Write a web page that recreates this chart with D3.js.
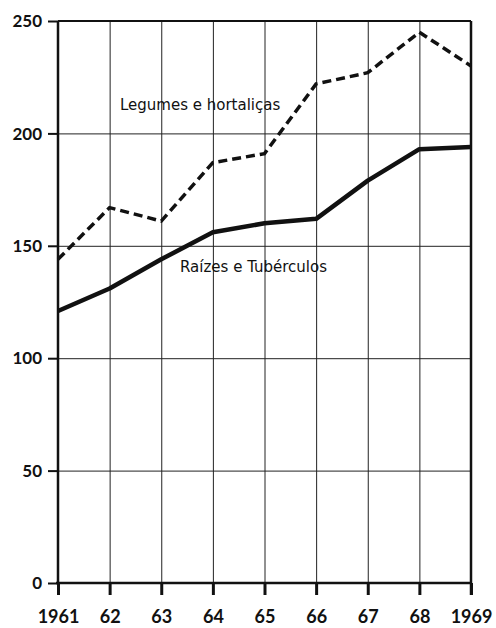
<!DOCTYPE html>
<html>
<head>
<meta charset="utf-8">
<script src="https://cdn.jsdelivr.net/npm/d3@7"></script>
<style>
  body { margin: 0; background: #fff; }
  svg { display: block; }
  .grid line { stroke: #222; stroke-width: 1; }
  .grid path { display: none; }
  .tick text { font-family: Lato, sans-serif; font-weight: 700; fill: #111; }
</style>
</head>
<body>
<svg width="496" height="628"></svg>
<script>
var years = [1961, 1962, 1963, 1964, 1965, 1966, 1967, 1968, 1969];
var yearLabels = ["1961", "62", "63", "64", "65", "66", "67", "68", "1969"];
var legumes = [144, 167, 161, 187, 191, 222, 227, 245, 230];
var raizes = [121, 131, 144, 156, 160, 162, 179, 193, 194];
var yTicks = [0, 50, 100, 150, 200, 250];

var svg = d3.select("svg"),
    margin = {top: 21, right: 25, bottom: 45, left: 58},
    width = svg.attr("width") - margin.left - margin.right,
    height = svg.attr("height") - margin.top - margin.bottom,
    g = svg.append("g").attr("transform", "translate(" + margin.left + "," + margin.top + ")");

var x = d3.scaleLinear().domain([1961, 1969]).range([0, width]),
    y = d3.scaleLinear().domain([0, 250]).range([height, 0]);

// gridlines
g.append("g")
    .attr("class", "grid")
    .attr("transform", "translate(0," + height + ")")
    .call(d3.axisBottom(x).tickValues(years).tickSize(-height).tickFormat(""));

g.append("g")
    .attr("class", "grid")
    .call(d3.axisLeft(y).tickValues(yTicks).tickSize(-width).tickFormat(""));

// frame
g.append("line").attr("x1", 0).attr("x2", 0).attr("y1", 0).attr("y2", height)
    .attr("stroke", "#111").attr("stroke-width", 2.5);
g.append("line").attr("x1", width).attr("x2", width).attr("y1", 0).attr("y2", height + 12)
    .attr("stroke", "#111").attr("stroke-width", 2.5);
g.append("line").attr("x1", 0).attr("x2", width).attr("y1", 0).attr("y2", 0)
    .attr("stroke", "#111").attr("stroke-width", 2);
g.append("line").attr("x1", -2).attr("x2", width).attr("y1", height).attr("y2", height)
    .attr("stroke", "#111").attr("stroke-width", 2.5);

// Y axis
var yAxis = g.append("g")
    .call(d3.axisLeft(y).tickValues(yTicks).tickSize(10).tickPadding(6));
yAxis.select(".domain").remove();
yAxis.selectAll(".tick line").attr("stroke", "#111").attr("stroke-width", 2);
yAxis.selectAll(".tick text").style("font-size", "17px").attr("dy", "0.33em");

// X axis
var xAxis = g.append("g")
    .attr("transform", "translate(0," + height + ")")
    .call(d3.axisBottom(x).tickValues(years).tickSize(12).tickPadding(15)
        .tickFormat(function(d, i) { return yearLabels[i]; }));
xAxis.select(".domain").remove();
xAxis.selectAll(".tick line").attr("stroke", "#111").attr("stroke-width", 3);
xAxis.selectAll(".tick text").style("font-size", "18px");

var line = d3.line()
    .x(function(d, i) { return x(years[i]); })
    .y(function(d) { return y(d); });

g.append("path")
    .datum(legumes)
    .attr("fill", "none")
    .attr("stroke", "#111")
    .attr("stroke-width", 3.5)
    .attr("stroke-dasharray", "9,5")
    .attr("d", line);

g.append("path")
    .datum(raizes)
    .attr("fill", "none")
    .attr("stroke", "#111")
    .attr("stroke-width", 4.5)
    .attr("stroke-linejoin", "round")
    .attr("d", line);

// labels
g.append("text")
    .attr("x", 62)
    .attr("y", 89)
    .style("font", "15px 'DejaVu Sans', sans-serif")
    .attr("fill", "#111")
    .text("Legumes e hortaliças");

g.append("text")
    .attr("x", 122)
    .attr("y", 251)
    .style("font", "15px 'DejaVu Sans', sans-serif")
    .attr("fill", "#111")
    .text("Raízes e Tubérculos");
</script>
</body>
</html>
